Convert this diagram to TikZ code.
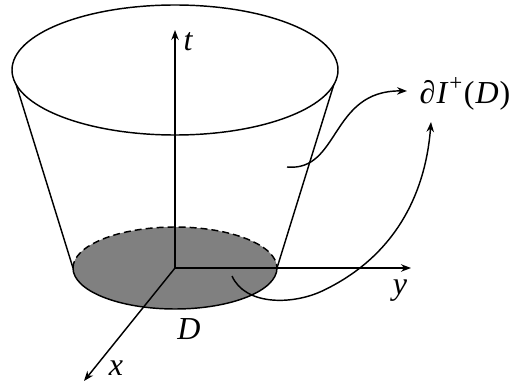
\documentclass[tikz,border=0pt]{standalone}
\usepackage{fontspec}
\setmainfont{Liberation Serif}
\usetikzlibrary{arrows.meta}
\begin{document}
\begin{tikzpicture}[x=1pt,y=1pt,
  line width=1.45pt,
  axis/.style={-{Stealth[length=10pt,width=7.5pt]}},
  lbl/.style={font=\fontsize{32}{36}\selectfont\itshape, inner sep=0pt}]
\useasboundingbox (0,0) rectangle (514,389);
% bottom disk D
\coordinate (O) at (175,121);
\fill[black!50] (O) ellipse [x radius=102pt, y radius=41pt];
\draw (73,121) arc[start angle=180,end angle=360,x radius=102pt,y radius=41pt];
\draw[dash pattern=on 7pt off 4pt] (73,121) arc[start angle=180,end angle=0,x radius=102pt,y radius=41pt];
% top ellipse
\coordinate (T) at (175,319);
\draw (T) ellipse [x radius=163pt, y radius=65pt];
% cone sides
\coordinate (TL) at (16,305);
\coordinate (TR) at (334,305);
\coordinate (BL) at (73,121);
\coordinate (BR) at (277,121);
\draw (TL) -- (BL);
\draw (TR) -- (BR);
% axes
\coordinate (tend) at (175,359);
\coordinate (yend) at (411,121);
\coordinate (xend) at (84,8);
\draw[axis] (O) -- (tend);
\draw[axis] (O) -- (yend);
\draw[axis] (O) -- (xend);
\node[lbl] (tl) at (188,347) {t};
\node[lbl] (yl) at (400,98) {y};
\node[lbl] (xl) at (116,21) {x};
\node[lbl] (Dl) at (189,60) {D};
\node[lbl, font=\fontsize{32}{36}\selectfont, anchor=west] (bd) at (419,295)
  {∂\kern1pt\textit{I}\kern1pt\raisebox{0.42em}{\fontsize{23}{23}\selectfont +}\kern1.5pt(\kern1pt\textit{D}\kern1pt)};
% connectors
\coordinate (c1) at (287,222);
\coordinate (c2) at (232,113);
\draw[axis] (c1) .. controls (340,217) and (330,299) .. (407,298);
\draw[axis] (c2) .. controls (245,84) and (290,84) .. (320,97) .. controls (390,129) and (425,189) .. (431,267);
\end{tikzpicture}
\end{document}
